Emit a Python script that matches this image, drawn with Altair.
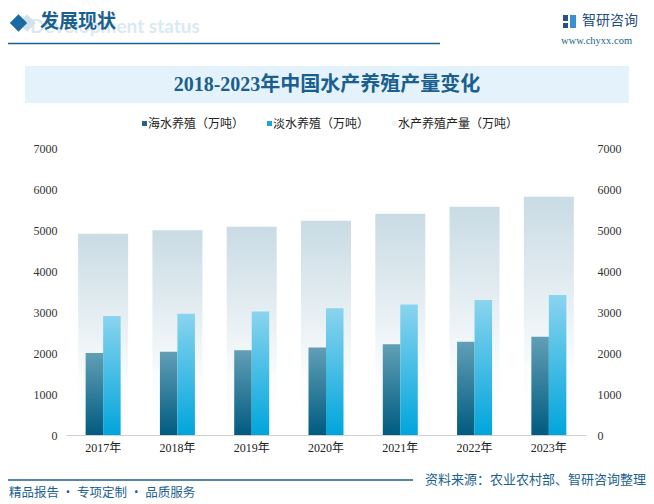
import altair as alt
import pandas as pd

# ---------------- data ----------------
years = ["2017年", "2018年", "2019年", "2020年", "2021年", "2022年", "2023年"]
seawater = [2001, 2031, 2065, 2135, 2212, 2276, 2395]      # 海水养殖（万吨）
freshwater = [2905, 2960, 3014, 3089, 3183, 3290, 3417]    # 淡水养殖（万吨）
total = [4906, 4991, 5079, 5224, 5394, 5565, 5812]         # 水产养殖产量（万吨）
series_names = ["海水养殖（万吨）", "淡水养殖（万吨）", "水产养殖产量（万吨）"]
y_ticks = [0, 1000, 2000, 3000, 4000, 5000, 6000, 7000]

df = pd.DataFrame({"year": years, "sea": seawater, "fresh": freshwater, "total": total})

# ---------------- layout helpers ----------------
X0, Y0 = 66, 148          # page position of plot origin
W, H = 520, 287
TOTAL_W, TOTAL_H = 638, 494
PAD = {"left": X0 - 8, "top": Y0 - 8, "right": TOTAL_W - (X0 - 8) - W, "bottom": TOTAL_H - (Y0 - 8) - H}

def px(x):
    return x - X0

def py(y):
    return y - Y0

DARK = "#1b5f8f"
SANS = "Noto Sans CJK SC"
SERIF = "Liberation Serif, Noto Sans CJK SC"


def grad(stops):
    return alt.Gradient(
        gradient="linear",
        stops=[alt.GradientStop(color=c, offset=o) for o, c in stops],
        x1=0, x2=0, y1=0, y2=1,
    )


def one():
    return pd.DataFrame({"t": [""]})


def label(text, x, y, size, color, weight="normal", align="left", font=SANS, baseline="middle"):
    return alt.Chart(pd.DataFrame({"t": [text]})).mark_text(
        align=align, baseline=baseline, fontSize=size, fontWeight=weight, color=color, font=font
    ).encode(x=alt.value(px(x)), y=alt.value(py(y)), text="t:N")


def box(x1, x2, y1, y2, color):
    return alt.Chart(one()).mark_rect(color=color).encode(
        x=alt.value(px(x1)), x2=alt.value(px(x2)), y=alt.value(py(y1)), y2=alt.value(py(y2))
    )


def hline(x1, x2, y, color, w=1.5):
    return alt.Chart(one()).mark_rule(color=color, strokeWidth=w).encode(
        x=alt.value(px(x1)), x2=alt.value(px(x2)), y=alt.value(py(y))
    )


def diamond(x, y, color, size):
    return alt.Chart(one()).mark_point(shape="diamond", filled=True, opacity=1, size=size, color=color).encode(
        x=alt.value(px(x)), y=alt.value(py(y))
    )


# ---------------- chart ----------------
yscale = alt.Scale(domain=[0, 7000], nice=False, zero=True)
xenc = alt.X(
    "year:N", sort=years, title=None,
    scale=alt.Scale(paddingInner=0, paddingOuter=0),
    axis=alt.Axis(labelAngle=0, ticks=False, domainColor="#cfcfcf", domainWidth=1,
                  labelFont=SERIF, labelFontSize=12, labelColor="#222222", labelPadding=7, grid=False),
)
left_axis = alt.Axis(orient="left", values=y_ticks, format="d", domain=False, ticks=False, grid=False,
                     labelFont=SERIF, labelFontSize=12, labelColor="#333333", labelPadding=9, title=None)
right_axis = alt.Axis(orient="right", values=y_ticks, format="d", domain=False, ticks=False, grid=False,
                      labelFont=SERIF, labelFontSize=12, labelColor="#333333", labelPadding=11, title=None)

base = alt.Chart(df)
bg_bars = base.mark_bar(size=50, color=grad([(0, "#c9dbe4"), (0.72, "#fafcfd"), (1, "#ffffff")])).encode(
    x=xenc, y=alt.Y("total:Q", scale=yscale, axis=left_axis)
)
sea_bars = base.mark_bar(size=17.5, xOffset=-8.75, color=grad([(0, "#619fb6"), (1, "#005b80")])).encode(
    x=xenc, y=alt.Y("sea:Q", scale=yscale, axis=right_axis)
)
fresh_bars = base.mark_bar(size=17.5, xOffset=8.75, color=grad([(0, "#8ad4ee"), (1, "#00a5dc")])).encode(
    x=xenc, y=alt.Y("fresh:Q", scale=yscale, axis=None)
)

deco = []
# header
deco.append(label("Development status", 30, 27, 19, "#dbe9f3", weight="bold", font="Lato"))
deco.append(diamond(27, 23, "#cfe2ee", 300))
deco.append(diamond(18.5, 23, "#1a6aa3", 300))
deco.append(label("发展现状", 40, 22, 19, DARK, weight="bold"))
deco.append(hline(8, 440, 43.5, DARK))
deco.append(box(563, 568, 15, 21, "#2a4f8c"))
deco.append(box(563, 568, 23, 28, "#2a4f8c"))
deco.append(box(570, 576, 15, 28, "#3a8fd0"))
deco.append(label("智研咨询", 582, 21, 14, "#1f4f86"))
deco.append(label("www.chyxx.com", 561, 41, 10.5, DARK, font="Liberation Serif"))
# title band
deco.append(box(25, 629, 66, 103, "#e4f2fb"))
deco.append(label("2018-2023年中国水产养殖产量变化", 327, 85, 20, DARK, weight="bold", align="center", font=SERIF))
# legend
leg_x = [142, 267, 392]
leg_col = ["#1e6687", "#16a8dc", "#eef3f6"]
for name, lx, lc in zip(series_names, leg_x, leg_col):
    deco.append(box(lx, lx + 5, 121, 126, lc))
    deco.append(label(name, lx + 6, 124, 12, "#222222"))
# footer
deco.append(hline(8, 413, 480, DARK))
deco.append(label("资料来源：农业农村部、智研咨询整理", 425, 480, 13, DARK))
deco.append(label("精品报告 · 专项定制 · 品质服务", 9, 493, 12.5, DARK))

chart = alt.layer(bg_bars, sea_bars, fresh_bars, *deco).resolve_scale(y="independent").properties(
    width=W, height=H, padding=PAD, autosize=alt.AutoSizeParams(type="none"), background="#ffffff"
).configure_view(stroke=None)

chart.save("out.html", embed_options={"renderer": "svg", "actions": False})
